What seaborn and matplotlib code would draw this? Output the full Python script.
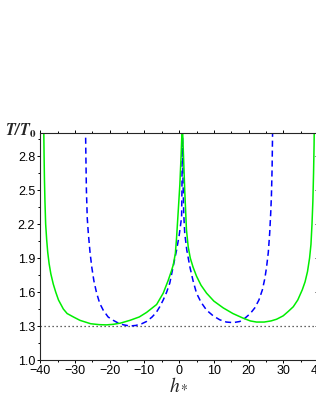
import numpy as np
import pandas as pd
import matplotlib
matplotlib.use('Agg')
import matplotlib.pyplot as plt
from matplotlib.ticker import FixedLocator, FormatStrFormatter
import seaborn as sns

# green solid curve, two branches between the singular points
green_left_h = [-39.05, -38.95, -38.85, -38.7, -38.5, -38.2, -37.9, -37.5, -37.0, -36.3,
                -35.6, -34.8, -33.4, -32.3, -30.5, -28.6, -25.5, -23.0, -21.0, -19.0,
                -17.0, -14.2, -11.5, -9.4, -6.5, -4.6, -3.2, -2.3, -1.7, -1.1,
                -0.75, -0.3, 0.2, 0.55, 0.85]
green_left_t = [3.05, 2.80, 2.60, 2.40, 2.20, 2.06, 1.95, 1.85, 1.76, 1.67,
                1.60, 1.53, 1.45, 1.41, 1.38, 1.35, 1.32, 1.312, 1.31, 1.315,
                1.325, 1.35, 1.38, 1.42, 1.49, 1.59, 1.70, 1.78, 1.84, 1.94,
                2.08, 2.30, 2.55, 2.80, 3.05]
green_right_h = [0.95, 1.25, 1.6, 2.1, 2.6, 3.2, 4.0, 5.0, 6.3, 7.9,
                 10.0, 12.7, 15.5, 18.4, 20.5, 22.3, 24.5, 26.5, 28.1, 30.0,
                 31.5, 32.9, 34.2, 35.5, 36.3, 37.0, 37.6, 38.0, 38.3, 38.55,
                 38.75, 38.9, 38.95]
green_right_t = [3.05, 2.80, 2.50, 2.15, 2.00, 1.90, 1.82, 1.74, 1.66, 1.59,
                 1.52, 1.46, 1.41, 1.37, 1.345, 1.335, 1.335, 1.345, 1.36, 1.39,
                 1.43, 1.47, 1.53, 1.62, 1.69, 1.78, 1.90, 2.02, 2.20, 2.40,
                 2.65, 2.90, 3.05]

# blue dashed curve
blue_left_h = [-27.0, -26.9, -26.75, -26.5, -26.2, -25.7, -25.2, -24.6, -23.8, -22.9,
               -21.9, -20.5, -19.0, -17.5, -16.0, -14.2, -12.5, -10.8, -9.4, -7.8,
               -6.6, -5.6, -4.6, -3.6, -2.7, -1.7, -0.75, 0.0, 0.7, 0.8, 0.9]
blue_left_t = [3.05, 2.80, 2.50, 2.25, 2.12, 1.95, 1.82, 1.70, 1.59, 1.50,
               1.44, 1.38, 1.35, 1.325, 1.31, 1.30, 1.305, 1.32, 1.34, 1.38,
               1.42, 1.47, 1.53, 1.60, 1.68, 1.83, 1.97, 2.10, 2.26, 2.50, 3.05]
blue_right_h = [0.95, 1.1, 1.3, 1.6, 2.2, 3.1, 4.0, 5.0, 6.3, 7.9,
                9.8, 11.7, 13.6, 15.6, 17.5, 19.0, 20.5, 21.8, 23.0, 24.0,
                24.7, 25.2, 25.7, 26.1, 26.4, 26.6, 26.8, 26.95]
blue_right_t = [3.05, 2.60, 2.30, 2.12, 1.97, 1.82, 1.70, 1.59, 1.51, 1.44,
                1.39, 1.355, 1.335, 1.33, 1.34, 1.37, 1.41, 1.46, 1.53, 1.62,
                1.72, 1.82, 1.95, 2.12, 2.30, 2.45, 2.70, 3.05]

t_ref = 1.3
xticks = [-40, -30, -20, -10, 0, 10, 20, 30, 40]
xminor = [-35, -25, -15, -5, 5, 15, 25, 35]
yticks = [1.0, 1.3, 1.6, 1.9, 2.2, 2.5, 2.8]
yminor = [1.15, 1.45, 1.75, 2.05, 2.35, 2.65, 2.95]

sns.set_style('ticks')
plt.rcParams['font.family'] = ['Liberation Sans', 'DejaVu Sans']
plt.rcParams['mathtext.fontset'] = 'stix'

fig = plt.figure(figsize=(3.16, 4.09), dpi=100)
ax = fig.add_axes([0.128, 0.1198, 0.878, 0.554])

ax.axhline(t_ref, color='#333333', linestyle=(0, (1, 2.2)), linewidth=0.9)

for hh, tt in [(blue_left_h, blue_left_t), (blue_right_h, blue_right_t)]:
    sns.lineplot(x=hh, y=tt, sort=False, estimator=None, ax=ax, color='#0000ff',
                 linewidth=1.1, linestyle=(0, (4, 2.5)))
for hh, tt in [(green_left_h, green_left_t), (green_right_h, green_right_t)]:
    sns.lineplot(x=hh, y=tt, sort=False, estimator=None, ax=ax, color='#00ee00',
                 linewidth=1.1)

ax.set_xlim(-40, 40)
ax.set_ylim(1.0, 3.0)
ax.xaxis.set_major_locator(FixedLocator(xticks))
ax.xaxis.set_minor_locator(FixedLocator(xminor))
ax.yaxis.set_major_locator(FixedLocator(yticks))
ax.yaxis.set_minor_locator(FixedLocator(yminor))
ax.yaxis.set_major_formatter(FormatStrFormatter('%.1f'))

for s in ax.spines.values():
    s.set_linewidth(0.8)
    s.set_visible(True)
ax.tick_params(which='both', direction='out', top=True, right=False, width=0.7,
               labelsize=9, pad=1.5, colors='black')
ax.tick_params(which='major', length=2.3)
ax.tick_params(which='minor', length=1.3)

# inward ticks on the right side
sec = ax.secondary_yaxis('right')
sec.yaxis.set_major_locator(FixedLocator(yticks))
sec.yaxis.set_minor_locator(FixedLocator(yminor))
sec.tick_params(which='both', direction='in', labelright=False, width=0.7)
sec.tick_params(which='major', length=2.3)
sec.tick_params(which='minor', length=1.3)

ax.set_xlabel('$h_*$', fontsize=14, labelpad=0)
ax.set_ylabel('')
fig.text(0.016, 0.668, r'$\mathbfit{T/T}_{\mathbf{0}}$', fontsize=11.5)

plt.savefig('out.png', dpi=100)
plt.close()
